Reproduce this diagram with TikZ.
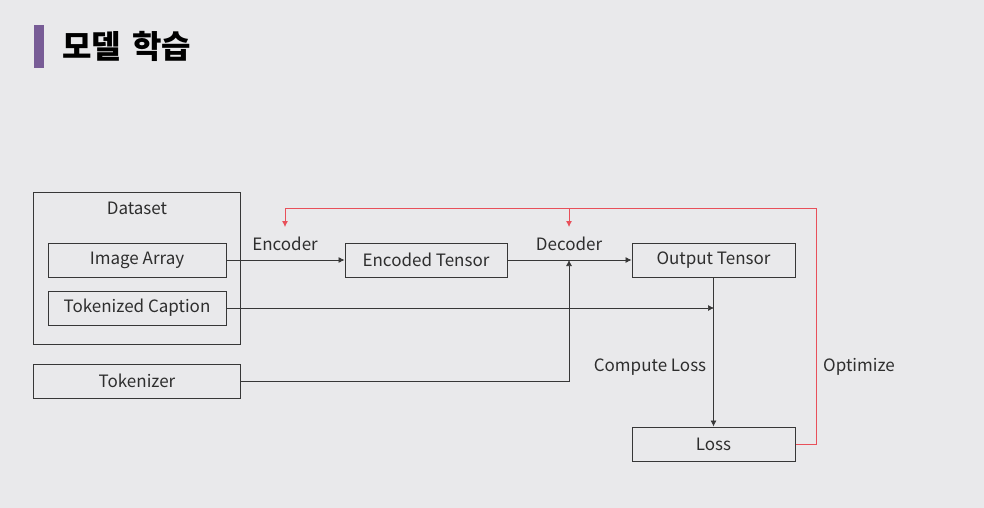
\documentclass[tikz,border=0pt]{standalone}
\usepackage{fontspec}
\setmainfont{Noto Sans CJK KR}
\usetikzlibrary{arrows.meta}
\definecolor{bgc}{RGB}{233,233,235}
\definecolor{linec}{RGB}{55,55,55}
\definecolor{redc}{RGB}{232,80,90}
\definecolor{barc}{RGB}{120,92,150}
\tikzset{
  box/.style={draw=linec, line width=1pt, minimum height=34pt, inner sep=0pt, font=\fontsize{17}{19}\selectfont, text=black!82},
  lbl/.style={font=\fontsize{17}{19}\selectfont, text=black!82, inner sep=0pt},
  conn/.style={draw=linec, line width=0.7pt, -{Latex[length=6pt,width=6pt]}},
  redconn/.style={draw=redc, line width=0.8pt, -{Latex[length=6pt,width=6pt]}},
}
\begin{document}
\begin{tikzpicture}[x=1pt,y=-1pt]
\fill[bgc] (0,0) rectangle (984,508);
\useasboundingbox (0,0) rectangle (984,508);
\fill[barc] (34,25) rectangle (44,68);
\node[anchor=west, font=\fontsize{32}{36}\selectfont\bfseries, inner sep=0pt] (title) at (62,46) {모델\hspace{0.35em}학습};

\node[draw=linec, line width=1pt, minimum width=207pt, minimum height=152pt, inner sep=0pt] (dataset) at (137,268) {};
\node[lbl] (dslabel) at (137,208) {Dataset};
\node[box, minimum width=178pt] (img) at (137,260) {Image Array};
\node[box, minimum width=178pt] (cap) at (137,308) {Tokenized Caption};
\node[box, minimum width=207pt] (tok) at (137,381) {Tokenizer};
\node[box, minimum width=162pt] (enc) at (426,260) {Encoded Tensor};
\node[box, minimum width=163pt] (out) at (713.5,260) {Output Tensor};
\node[box, minimum width=163pt] (loss) at (713.5,444) {Loss};

\node[lbl] (enclbl) at (285,244) {Encoder};
\node[lbl] (declbl) at (569,244) {Decoder};
\node[lbl] (cllbl) at (650,367) {Compute Loss};
\node[lbl] (optlbl) at (859,367) {Optimize};

\coordinate (encin) at (285,227);
\coordinate (decin) at (569,227);
\coordinate (decjoin) at (569,260);
\coordinate (capjoin) at (714,308);

\draw[conn] (img.east) -- (enc.west);
\draw[conn] (enc.east) -- (out.west);
\draw[conn] (tok.east) -| (decjoin);
\draw[conn] (cap.east) -- (capjoin);
\draw[conn] (out.south) -- (loss.north);

\draw[redconn] (loss.east) -- (816,444) -- (816,208) -| (encin);
\draw[redconn] (569,208) -- (decin);
\end{tikzpicture}
\end{document}
